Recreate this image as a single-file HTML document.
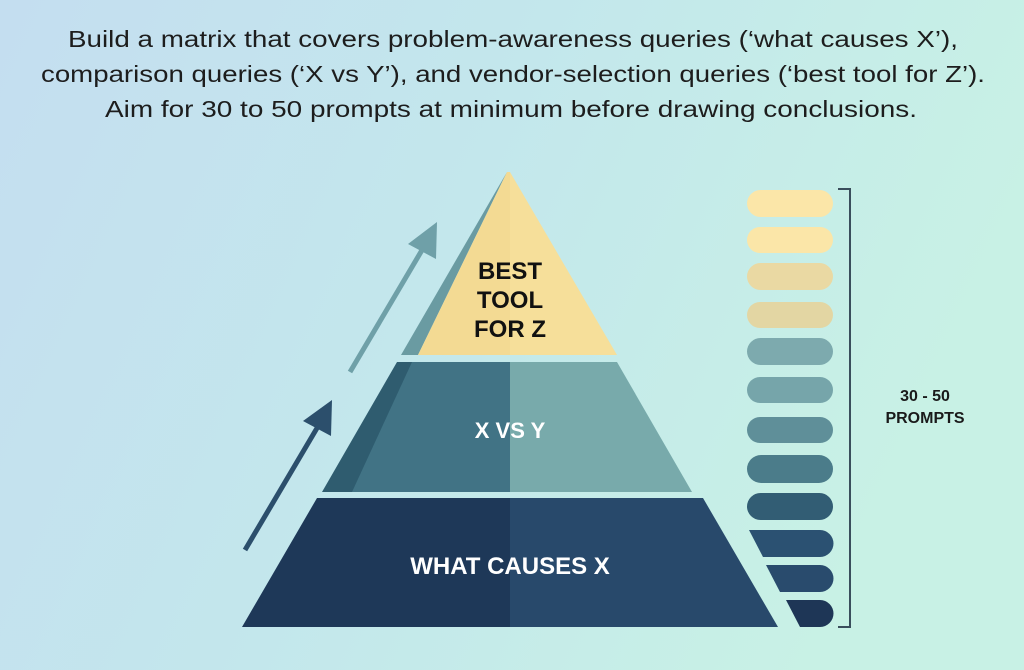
<!DOCTYPE html>
<html><head><meta charset="utf-8"><style>
html,body{margin:0;padding:0;width:1024px;height:670px;overflow:hidden}
</style></head><body>
<svg width="1024" height="670" viewBox="0 0 1024 670" xmlns="http://www.w3.org/2000/svg">
<defs>
<linearGradient id="bg" x1="0" y1="0" x2="1" y2="0.3">
<stop offset="0" stop-color="#c4def0"/><stop offset="0.5" stop-color="#c3e7ec"/><stop offset="1" stop-color="#c8f1e5"/>
</linearGradient>
</defs>
<rect width="1024" height="670" fill="url(#bg)"/>
<g font-family="Liberation Sans, sans-serif" font-size="23" fill="#1d1d1d" text-anchor="middle">
<text x="513" y="47" textLength="890" lengthAdjust="spacingAndGlyphs">Build a matrix that covers problem-awareness queries (‘what causes X’),</text>
<text x="513" y="82" textLength="944" lengthAdjust="spacingAndGlyphs">comparison queries (‘X vs Y’), and vendor-selection queries (‘best tool for Z’).</text>
<text x="511" y="117" textLength="812" lengthAdjust="spacingAndGlyphs">Aim for 30 to 50 prompts at minimum before drawing conclusions.</text>
</g>
<!-- arrows -->
<line x1="350" y1="372" x2="425" y2="245" stroke="#6fa0a8" stroke-width="5"/>
<polygon points="437,222 408,244 436,259" fill="#6fa0a8"/>
<line x1="245" y1="550" x2="320" y2="423" stroke="#2c4f6c" stroke-width="5"/>
<polygon points="332,400 303,421 331,436" fill="#2c4f6c"/>
<!-- bottom tier -->
<polygon points="317,498 510,498 510,627 242,627" fill="#1e3858"/>
<polygon points="510,498 703,498 778,627 510,627" fill="#28496b"/>
<!-- middle tier -->
<polygon points="397,362 510,362 510,492 322,492" fill="#2f5c6f"/>
<polygon points="412,362 510,362 510,492 352,492" fill="#417385"/>
<polygon points="510,362 617,362 692,492 510,492" fill="#78aaab"/>
<!-- top tier -->
<polygon points="507,172 418,355 401,355" fill="#6a9ba2"/>
<polygon points="507,172 510,172 510,355 418,355" fill="#f3da93"/>
<polygon points="510,172 617,355 510,355" fill="#f6df9a"/>
<g font-family="Liberation Sans, sans-serif" font-weight="bold" text-anchor="middle">
<text x="510" y="279" font-size="24" fill="#111">BEST</text>
<text x="510" y="308" font-size="24" fill="#111">TOOL</text>
<text x="510" y="337" font-size="24" fill="#111">FOR Z</text>
<text x="510" y="438" font-size="22" fill="#fff">X VS Y</text>
<text x="510" y="574" font-size="24" fill="#fff">WHAT CAUSES X</text>
<text x="925" y="401" font-size="16" fill="#1a1a1a">30 - 50</text>
<text x="925" y="423" font-size="16" fill="#1a1a1a">PROMPTS</text>
</g>
<!-- pills -->
<g>
<rect x="747" y="190" width="86" height="27" rx="13.5" fill="#fbe6a8"/>
<rect x="747" y="227" width="86" height="26" rx="13" fill="#fbe6a8"/>
<rect x="747" y="263" width="86" height="27" rx="13.5" fill="#ead9a3"/>
<rect x="747" y="302" width="86" height="26" rx="13" fill="#e3d6a3"/>
<rect x="747" y="338" width="86" height="27" rx="13.5" fill="#7daaae"/>
<rect x="747" y="377" width="86" height="26" rx="13" fill="#76a5aa"/>
<rect x="747" y="417" width="86" height="26" rx="13" fill="#5f8f99"/>
<rect x="747" y="455" width="86" height="28" rx="14" fill="#4b7c8a"/>
<rect x="747" y="493" width="86" height="27" rx="13.5" fill="#325d74"/>
<path d="M749,530 L820,530 A13.5,13.5 0 0 1 820,557 L763,557 Z" fill="#2b5172"/>
<path d="M766,565 L820,565 A13.5,13.5 0 0 1 820,592 L780,592 Z" fill="#294b6d"/>
<path d="M786,600 L820,600 A13.5,13.5 0 0 1 820,627 L800,627 Z" fill="#1e3656"/>
</g>
<polyline points="838,189 850,189 850,627 838,627" fill="none" stroke="#3a4e5c" stroke-width="2"/>
</svg>
</body></html>
